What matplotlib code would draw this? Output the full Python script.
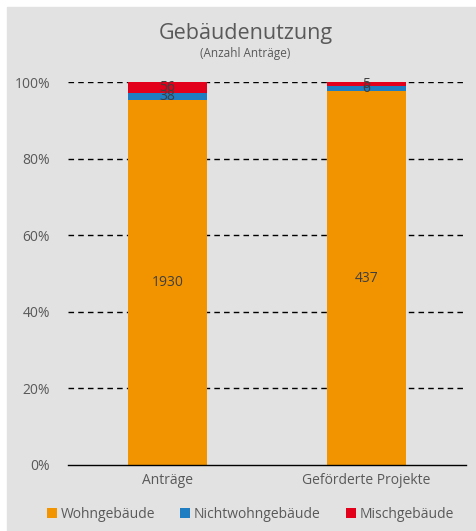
import numpy as np
import matplotlib.pyplot as plt

# -----------------------------
# Data
# -----------------------------

categories = ["Anträge", "Geförderte Projekte"]
series_names = ["Wohngebäude", "Nichtwohngebäude", "Mischgebäude"]
wohn = [1930, 437]
nichtwohn = [38, 6]
misch = [56, 5]

colors = ["#f29400", "#1f7dc1", "#e2001a"]
bg = "#e1e2e1"
text_grey = "#595959"

plt.rcParams["font.family"] = ["Open Sans", "DejaVu Sans"]

values = np.array([wohn, nichtwohn, misch], dtype=float)
shares = values / values.sum(axis=0)

fig = plt.figure(figsize=(4.77, 5.31), dpi=100)
fig.patch.set_facecolor("white")
fig.add_artist(plt.Rectangle((7 / 477, 0), 1, 1 - 7 / 531,
                             transform=fig.transFigure, color=bg, zorder=-10))

ax = fig.add_axes([68 / 477, 1 - 465 / 531, (466 - 68) / 477, (465 - 82) / 531])
ax.set_facecolor(bg)

x = np.arange(len(categories))
bottom = np.zeros(len(categories))
for i, name in enumerate(series_names):
    ax.bar(x, shares[i], width=0.4, bottom=bottom, color=colors[i],
           label=name, zorder=3)
    for j in range(len(categories)):
        ax.text(x[j], bottom[j] + shares[i][j] / 2, f"{int(values[i][j])}",
                ha="center", va="center", fontsize=10, color="#3f3f3f", zorder=4)
    bottom += shares[i]

ax.set_xlim(-0.5, 1.5)
ax.set_ylim(0, 1)
ax.set_yticks(np.arange(0, 1.01, 0.2))
ax.set_yticklabels([f"{int(v * 100)}%" for v in np.arange(0, 1.01, 0.2)])
ax.set_xticks(x)
ax.set_xticklabels(categories)
ax.tick_params(axis="both", length=0, colors=text_grey, labelsize=10)
ax.tick_params(axis="y", pad=13)
ax.tick_params(axis="x", pad=6)

for y in np.arange(0.2, 1.01, 0.2):
    ax.axhline(y, color="black", linestyle=(0, (4, 3)), linewidth=1, zorder=1)

for side in ["left", "right", "top"]:
    ax.spines[side].set_visible(False)
ax.spines["bottom"].set_color("black")
ax.spines["bottom"].set_linewidth(1)
ax.spines["bottom"].set_zorder(5)

fig.text(0.515, 1 - 33 / 531, "Gebäudenutzung", ha="center", va="center",
         fontsize=15.5, color=text_grey)
fig.text(0.515, 1 - 53 / 531, "(Anzahl Anträge)", ha="center", va="center",
         fontsize=8.5, color=text_grey)

handles, labels = ax.get_legend_handles_labels()
fig.legend(handles, labels, loc="center", bbox_to_anchor=(0.525, 1 - 514 / 531),
           ncol=3, frameon=False, fontsize=10, labelcolor=text_grey,
           handlelength=0.7, handleheight=0.7, handletextpad=0.3,
           columnspacing=1.8)

fig.savefig("out.png", dpi=100, facecolor=fig.get_facecolor())
